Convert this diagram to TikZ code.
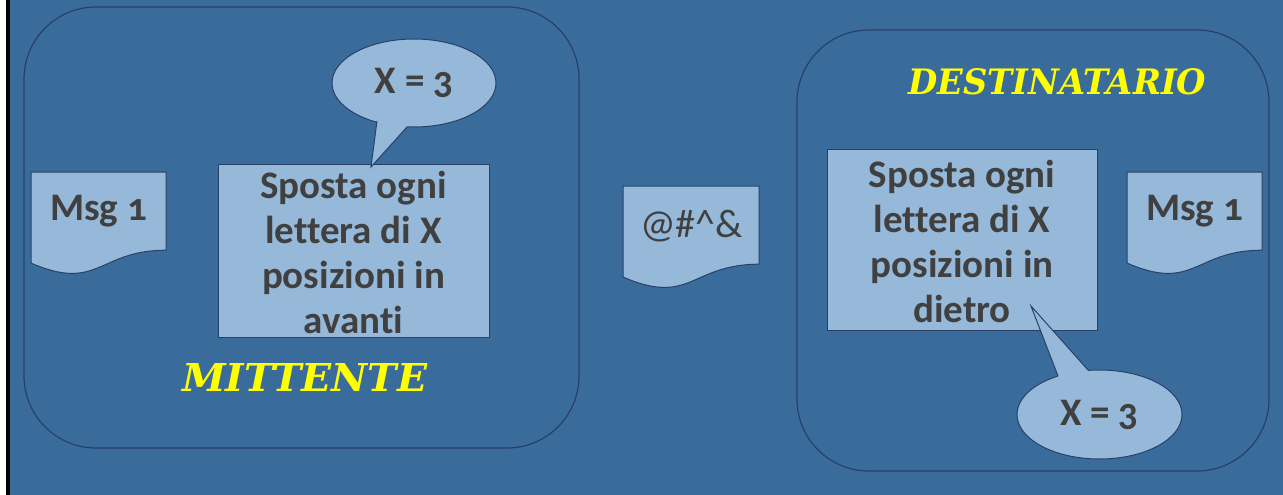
\documentclass[tikz,border=0pt]{standalone}
\usepackage{fontspec}
\usetikzlibrary{shapes.geometric}
\newfontfamily\bodyfont{Carlito}[Numbers=OldStyle, Ligatures=NoCommon]
\newfontfamily\titlefont{DejaVu Serif}

\definecolor{slide}{RGB}{58,108,155}
\definecolor{edge}{RGB}{40,64,104}
\definecolor{paper}{RGB}{150,185,218}
\definecolor{ink}{RGB}{64,64,64}
\definecolor{gold}{RGB}{255,255,0}

\tikzset{
  frame/.style={draw=edge, line width=1.2pt, rounded corners=72pt},
  card/.style={draw=edge, line width=1pt, fill=paper},
  bodytext/.style={text=ink, font=\bodyfont\bfseries\fontsize{39}{45}\selectfont, align=center, inner sep=0pt},
  bubble/.style={ellipse, draw=edge, line width=1pt, fill=paper, inner sep=0pt},
  heading/.style={text=gold, font=\titlefont\bfseries\itshape, inner sep=0pt, anchor=south west}
}

% flowchart "document" sheet: corner (#1,#2), width #3, height #4
\newcommand\sheet[4]{%
  \draw[card] (#1,#2) -- ++(#3,0) -- ++(0,0.802*#4)
    .. controls ++(-0.5*#3,0) and ++(0.5*#3,0.30*#4) .. ++(-#3,0.132*#4) -- cycle;}

\begin{document}
\begin{tikzpicture}[x=1pt,y=-1pt]
\useasboundingbox (0,0) rectangle (1283,495);
\fill[white] (0,0) rectangle (1283,495);
\fill[black] (6,0) rectangle (9.5,495);
\fill[slide] (9.5,0) rectangle (1283,495);

% the two parties
\draw[frame] (24,7) rectangle (579,448);
\draw[frame] (797,30) rectangle (1269,471);

% sender side
\sheet{31}{172}{135}{97.5}
\node[bodytext] (msgA) at (98.5,211) {Msg 1};
\draw[card] (218,164) rectangle (489,337);
\node[bodytext, anchor=north] (encA) at (353.5,171) {Sposta ogni\\lettera di X\\posizioni in\\avanti};
\node[bubble, minimum width=164pt, minimum height=88pt] (keyA) at (414,83) {};
\coordinate (tipA) at (371,167);
\fill[paper] (377,121) -- (tipA) -- (407,127) -- (405,115) -- (380,112) -- cycle;
\draw[edge, line width=1pt, line join=miter] (377,121) -- (tipA) -- (407,127);
\node[bodytext] at (keyA.center) {X = 3};
\node[heading] (sender) at (182,392) {\resizebox{245pt}{28pt}{MITTENTE}};

% message in transit
\sheet{623}{186}{136}{97.5}
\node[text=ink, font=\bodyfont\fontsize{40}{40}\selectfont, inner sep=0pt] (cipher) at (691.5,226) {@\#\^{}\&};

% receiver side
\draw[card] (827,149) rectangle (1097,330);
\node[bodytext, anchor=north] (decB) at (962,160) {Sposta ogni\\lettera di X\\posizioni in\\dietro};
\sheet{1127}{172}{135}{97.5}
\node[bodytext] (msgB) at (1194.5,211) {Msg 1};
\node[bubble, minimum width=165pt, minimum height=89pt] (keyB) at (1099.5,414.5) {};
\coordinate (tipB) at (1031,306);
\fill[paper] (1058,376) -- (tipB) -- (1088,370) -- (1090,382) -- (1062,386) -- cycle;
\draw[edge, line width=1pt, line join=miter] (1058,376) -- (tipB) -- (1088,370);
\node[bodytext] at (keyB.center) {X = 3};
\node[heading] (receiver) at (908,95) {\resizebox{298pt}{26pt}{DESTINATARIO}};
\end{tikzpicture}
\end{document}
